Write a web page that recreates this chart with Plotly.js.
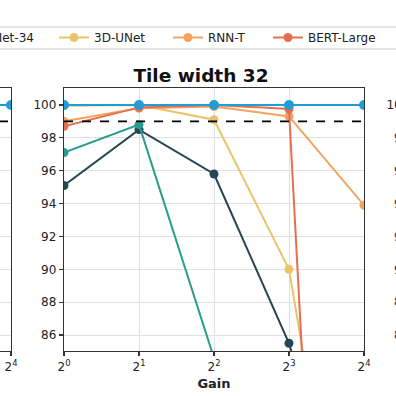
<!DOCTYPE html>
<html><head><meta charset="utf-8">
<script src="https://cdn.plot.ly/plotly-3.0.1.min.js"></script>
<style>
html,body{margin:0;padding:0;overflow:hidden;width:396px;height:396px;background:#fff}
#wrap{position:absolute;left:-330px;top:0;width:1090px;height:396px}
</style>
</head><body><div id="wrap"></div>
<script>
// ---- data (middle panel: "Tile width 32") ----
const gains = [1, 2, 4, 8, 16];
const gainTickText = ['2<sup>0</sup>', '2<sup>1</sup>', '2<sup>2</sup>', '2<sup>3</sup>', '2<sup>4</sup>'];
const yTicks = [86, 88, 90, 92, 94, 96, 98, 100];
const seriesNames = ['ResNet-50', 'SSD-ResNet-34', '3D-UNet', 'RNN-T', 'BERT-Large', 'DLRM'];
const resnet50   = [95.1, 98.5, 95.8, 85.5, 70];
const ssdResnet  = [97.1, 98.8, 84.6, 75, 60];
const unet3d     = [99.95, 100, 99.1, 90.0, 63];
const rnnt       = [99.0, 99.8, 99.9, 99.3, 93.9];
const bertLarge  = [98.7, 99.85, 100, 99.75, 14];
const dlrm       = [100, 100, 100, 100, 100];
const targetLevel = [99, 99];
const targetGains = [1, 16];
// visible tail of the left neighbouring panel
const leftGains = [8, 16];
const leftDlrm  = [100, 100];

const colors = ['#264653', '#2a9d8f', '#e9c46a', '#f4a261', '#e76f51', '#1f9ed6'];
const seriesData = [resnet50, ssdResnet, unet3d, rnnt, bertLarge, dlrm];
const legendWidths = [70, 106, 69, 55, 85, 50];

// ---- geometry (px in the 396 window; container shifted left by OFF) ----
const OFF = 330, W = 1090, H = 396;
const px = s => (s + OFF) / W;
const py = s => 1 - s / H;
const yDom = [py(351), py(88)];
const yRange = [85.03, 101.03];
const xRange = [0, Math.log10(16)];

const axisStyle = {
  showline: true, mirror: true, linecolor: '#333', linewidth: 1.2,
  ticks: 'outside', ticklen: 4, tickcolor: '#333', tickwidth: 1.2,
  showgrid: true, gridcolor: '#e0e0e0', gridwidth: 1, zeroline: false,
  tickfont: {family: 'DejaVu Sans', size: 12, color: '#222'}
};
function xax(dom, anchor, title) {
  return Object.assign({}, axisStyle, {
    type: 'log', range: xRange, domain: dom, anchor: anchor,
    tickmode: 'array', tickvals: gains, ticktext: gainTickText,
    title: title ? {text: title, font: {family: 'DejaVu Sans', size: 13, color: '#222'}, standoff: 6} : undefined
  });
}
function yax(dom, anchor) {
  return Object.assign({}, axisStyle, {
    range: yRange, domain: dom, anchor: anchor,
    tickmode: 'array', tickvals: yTicks
  });
}

const traces = [];
seriesData.forEach((ys, i) => {
  traces.push({
    x: gains, y: ys, name: seriesNames[i], type: 'scatter', mode: 'lines+markers',
    xaxis: 'x', yaxis: 'y',
    line: {color: colors[i], width: 2},
    marker: {color: colors[i], size: i === 5 ? 10 : 9},
    showlegend: true, legendwidth: legendWidths[i]
  });
});
traces.push({x: targetGains, y: targetLevel, xaxis: 'x', yaxis: 'y', mode: 'lines',
  line: {color: '#000', width: 1.8, dash: 'dash'}, showlegend: false, hoverinfo: 'skip'});
// left neighbour panel
traces.push({x: leftGains, y: leftDlrm, xaxis: 'x2', yaxis: 'y2', mode: 'lines+markers',
  line: {color: colors[5], width: 2}, marker: {color: colors[5], size: 10}, showlegend: false});
traces.push({x: targetGains, y: targetLevel, xaxis: 'x2', yaxis: 'y2', mode: 'lines',
  line: {color: '#000', width: 1.8, dash: 'dash'}, showlegend: false, hoverinfo: 'skip'});
// right neighbour panel (axes only visible)
traces.push({x: targetGains, y: targetLevel, xaxis: 'x3', yaxis: 'y3', mode: 'lines',
  line: {color: '#000', width: 1.8, dash: 'dash'}, showlegend: false, hoverinfo: 'skip'});

const layout = {
  width: W, height: H,
  margin: {l: 0, r: 0, t: 0, b: 0},
  paper_bgcolor: '#fff', plot_bgcolor: '#fff',
  font: {family: 'DejaVu Sans', size: 12, color: '#222'},
  title: {text: '<b>Tile width 32</b>', font: {family: 'DejaVu Sans', size: 18.5, color: '#111'},
    x: px(201), xref: 'paper', xanchor: 'center', y: py(76), yref: 'paper', yanchor: 'middle'},
  xaxis: xax([px(64), px(364)], 'y', '<b>Gain</b>'),
  yaxis: yax(yDom, 'x'),
  xaxis2: xax([px(-289), px(11)], 'y2'),
  yaxis2: yax(yDom, 'x2'),
  xaxis3: xax([px(417), px(717)], 'y3'),
  yaxis3: yax(yDom, 'x3'),
  legend: {orientation: 'h', x: px(-212), xanchor: 'left', y: py(23), yanchor: 'top',
    borderwidth: 0, bgcolor: 'rgba(0,0,0,0)',
    font: {family: 'DejaVu Sans', size: 12, color: '#222'}},
  shapes: [{type: 'rect', xref: 'paper', yref: 'paper',
    x0: px(-240), x1: px(500), y0: py(49), y1: py(27),
    line: {color: '#cccccc', width: 1}, fillcolor: 'rgba(0,0,0,0)', layer: 'below'}],
  showlegend: true
};

Plotly.newPlot('wrap', traces, layout, {displayModeBar: false, staticPlot: true});
</script>
</body></html>
